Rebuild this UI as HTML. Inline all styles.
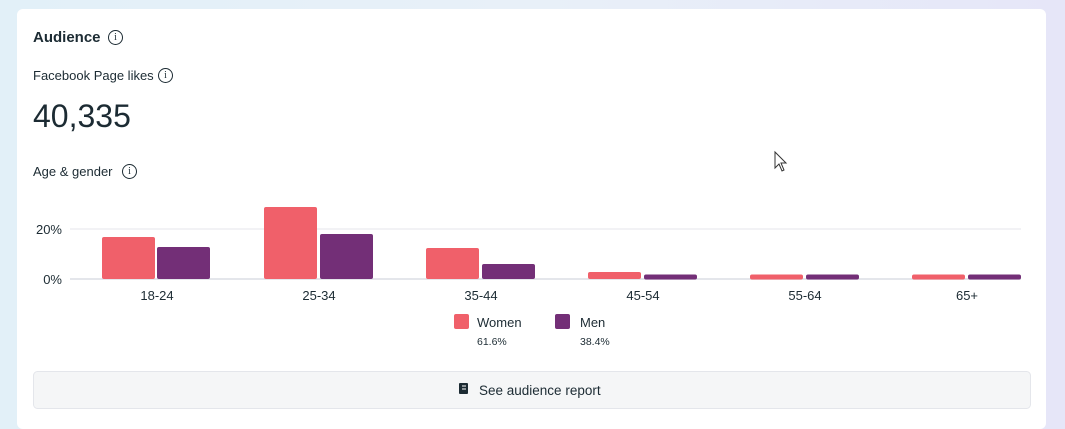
<!DOCTYPE html>
<html><head><style>
body{margin:0;width:1065px;height:414px;overflow:hidden;background:linear-gradient(90deg,#e2f0f8 0%,#e8f0f8 50%,#e6e6f8 100%);font-family:"Liberation Sans",sans-serif;color:#1c2b33}
.card{position:absolute;left:17px;top:9px;width:1029px;height:420px;background:#fff;border-radius:6px}
.t{position:absolute;white-space:nowrap}
.i{position:absolute;width:13px;height:13px;border:1.3px solid #1c2b33;border-radius:50%;font-size:10px;text-align:center;line-height:13px;font-family:"Liberation Serif",serif;font-weight:normal}
</style></head><body>
<div class="card"></div>
<div class="t" style="left:33px;top:29px;font-size:15px;font-weight:bold">Audience</div>
<div class="i" style="left:108px;top:30px">i</div>
<div class="t" style="left:33px;top:68px;font-size:13px">Facebook Page likes</div>
<div class="i" style="left:158px;top:68px">i</div>
<div class="t" style="left:33px;top:98px;font-size:32px">40,335</div>
<div class="t" style="left:33px;top:164px;font-size:13px">Age &amp; gender</div>
<div class="i" style="left:122px;top:164px">i</div>
<svg style="position:absolute;left:0;top:0" width="1065" height="414">
<line x1="70" y1="229" x2="1021" y2="229" stroke="#e4e6eb"/>
<line x1="70" y1="279" x2="1021" y2="279" stroke="#e4e6eb" stroke-width="2"/>
<g font-family="Liberation Sans" font-size="13" fill="#1c2b33">
<text x="62" y="234" text-anchor="end">20%</text>
<text x="62" y="284" text-anchor="end">0%</text>
<g text-anchor="middle">
<text x="157" y="300">18-24</text><text x="319" y="300">25-34</text><text x="481" y="300">35-44</text>
<text x="643" y="300">45-54</text><text x="805" y="300">55-64</text><text x="967" y="300">65+</text></g>
<text x="477" y="327">Women</text><text x="580" y="327">Men</text>
<text x="477" y="345" font-size="10.5">61.6%</text><text x="580" y="345" font-size="10.5">38.4%</text>
</g>
<g fill="#f0606a">
<rect x="102" y="237" width="53" height="42" rx="2"/>
<rect x="264" y="207" width="53" height="72" rx="2"/>
<rect x="426" y="248" width="53" height="31" rx="2"/>
<rect x="588" y="272" width="53" height="7" rx="2"/>
<rect x="750" y="274.5" width="53" height="5" rx="2"/>
<rect x="912" y="274.5" width="53" height="5" rx="2"/>
<rect x="454" y="314" width="15" height="15" rx="2"/>
</g>
<g fill="#732f77">
<rect x="157" y="247" width="53" height="32" rx="2"/>
<rect x="320" y="234" width="53" height="45" rx="2"/>
<rect x="482" y="264" width="53" height="15" rx="2"/>
<rect x="644" y="274.5" width="53" height="5" rx="2"/>
<rect x="806" y="274.5" width="53" height="5" rx="2"/>
<rect x="968" y="274.5" width="53" height="5" rx="2"/>
<rect x="555" y="314" width="15" height="15" rx="2"/>
</g>
<rect x="33.5" y="371.5" width="997" height="37" rx="4" fill="#f5f6f7" stroke="#e4e6eb"/>
<rect x="459" y="383" width="9" height="11" rx="1" fill="#1c2b33"/>
<line x1="462" y1="386" x2="466" y2="386" stroke="#fff"/><line x1="462" y1="389" x2="466" y2="389" stroke="#fff"/>
<text x="479" y="395" font-family="Liberation Sans" font-size="13.5" fill="#1c2b33">See audience report</text>
<path d="M775 152 L775 168 L779 164 L782 171 L784 170 L781 163 L786 163 Z" fill="#fff" stroke="#333"/>
</svg>
</body></html>
